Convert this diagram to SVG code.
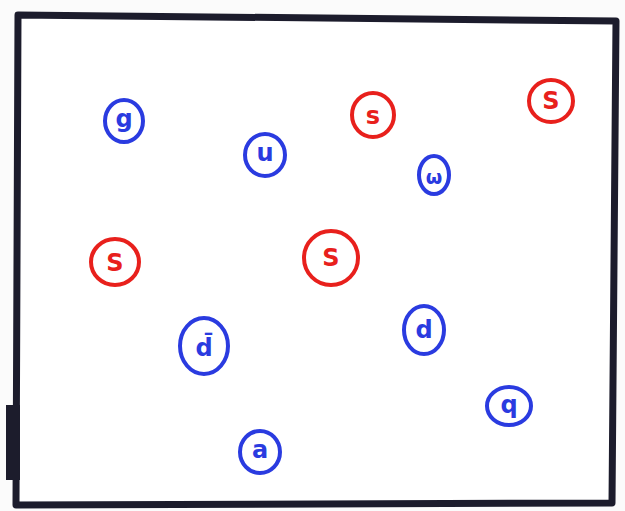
<svg xmlns="http://www.w3.org/2000/svg" width="625" height="511" viewBox="0 0 625 511">
<style>
.b ellipse{fill:none;stroke:#2a3be0;stroke-width:4}
.r ellipse{fill:none;stroke:#e8201c;stroke-width:4}
.b text{fill:#2a3be0}
.r text{fill:#e8201c}
text{font-family:"DejaVu Sans","Liberation Sans",sans-serif;font-size:24px;font-weight:bold;text-anchor:middle;dominant-baseline:central}
</style>
<rect x="0" y="0" width="625" height="511" fill="#fbfbfb"/>
<g id="board">
<polygon points="18,15 616,21 612,503 16,505" fill="#ffffff" stroke="#1c1c2c" stroke-width="7" stroke-linejoin="round"/>
<rect x="6" y="405" width="14" height="75" fill="#1c1c2c"/>
</g>
<g id="n1" class="b"><ellipse cx="124" cy="121" rx="19" ry="21"/><text x="124" y="119">g</text></g>
<g id="n2" class="b"><ellipse cx="265" cy="155" rx="20" ry="21"/><text x="265" y="153">u</text></g>
<g id="n3" class="r"><ellipse cx="373" cy="115" rx="21" ry="22"/><text x="373" y="116">s</text></g>
<g id="n4" class="r"><ellipse cx="551" cy="101" rx="22" ry="21"/><text x="551" y="101">S</text></g>
<g id="n5" class="b"><ellipse cx="434" cy="175" rx="15" ry="19"/><text x="434" y="177" style="font-size:19px">ω</text></g>
<g id="n6" class="r"><ellipse cx="115" cy="262" rx="24" ry="23"/><text x="115" y="263">S</text></g>
<g id="n7" class="r"><ellipse cx="331" cy="258" rx="27" ry="27"/><text x="331" y="258">S</text></g>
<g id="n8" class="b"><ellipse cx="204" cy="346" rx="24" ry="28"/><text x="204" y="348">d̄</text></g>
<g id="n9" class="b"><ellipse cx="424" cy="330" rx="20" ry="24"/><text x="424" y="330">d</text></g>
<g id="n10" class="b"><ellipse cx="509" cy="406" rx="22" ry="19"/><text x="509" y="405">q</text></g>
<g id="n11" class="b"><ellipse cx="260" cy="452" rx="20" ry="21"/><text x="260" y="450">a</text></g>
<g id="connectors"/>
</svg>
